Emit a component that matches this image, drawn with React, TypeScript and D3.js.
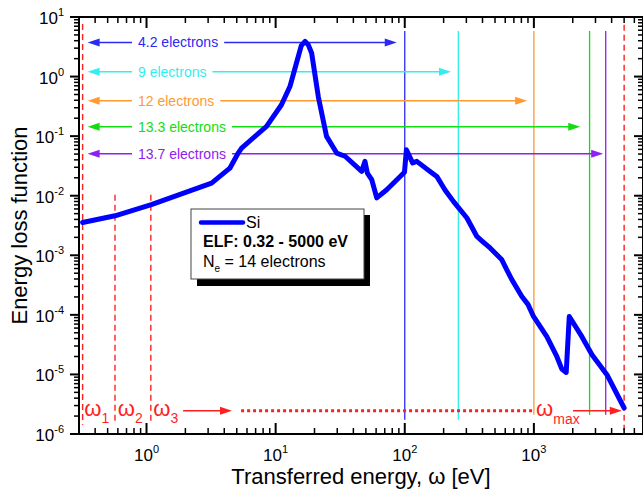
import React from "react";
import * as d3 from "d3";

// ---- data ----
const elfEnergy = [
  0.32, 0.57, 1.09, 3.19, 4.42, 5.13, 5.45, 8.5, 11.1, 12.9, 14.5, 15.8, 16.9, 17.9, 19, 21.4, 24.8,
  29.7, 34.5, 46.4, 49.2, 51.3, 55.5, 60.7, 72.5, 99.5, 103, 115, 124, 157, 177, 205, 238, 303, 362,
  395, 458, 565, 620, 675, 807, 900, 993, 1260, 1505, 1647, 1780, 1880, 2355, 2818, 3680, 5000,
];
const elfValue = [
  3.56e-3, 4.6e-3, 7.1e-3, 0.0163, 0.029, 0.052, 0.063, 0.146, 0.337, 0.68, 1.69, 3.3, 3.9, 3.4,
  2.49, 0.46, 0.099, 0.052, 0.046, 0.0256, 0.0377, 0.024, 0.0186, 0.0092, 0.0126, 0.0247, 0.059,
  0.0355, 0.0377, 0.0256, 0.0211, 0.0125, 0.00803, 0.00423, 0.00207, 0.00175, 0.00133, 8.4e-4,
  5.6e-4, 3.9e-4, 2.04e-4, 1.5e-4, 9.4e-5, 4.3e-5, 2.0e-5, 1.23e-5, 1.08e-5, 9.4e-5, 4.3e-5,
  2.14e-5, 9.9e-6, 2.73e-6,
];

const arrowLabels = ["4.2 electrons", "9 electrons", "12 electrons", "13.3 electrons", "13.7 electrons"];
const arrowLevels = [3.75, 1.21, 0.394, 0.144, 0.0508];
const arrowEnds = [86.7, 228, 887, 2285, 3440];
const arrowStart = 0.35;
const arrowColors = ["#2a2af2", "#33eeee", "#ff9933", "#11dd11", "#9020f0"];

const edgeEnergies = [100, 260, 1000, 2700, 3600];
const edgeBottoms = [1.74e-6, 1.74e-6, 2.1e-6, 2.1e-6, 2.1e-6];
const edgeTop = 5.8;

const omegaEnergies = [0.32, 0.57, 1.08];
const omegaTops = [7.6, 0.0104, 0.0104];
const omegaBottom = 1.43e-6;
const omegaMax = 5000;
const omegaMaxTop = 7.4;
const omegaLabels = ["1", "2", "3"];
const omegaLabelX = [0.33, 0.6, 1.13];

const dottedLevel = 2.46e-6;
const dottedRange = [5.4, 988];
const arrowW3 = [1.92, 4.59];
const arrowWmax = [2010, 4800];

const xDecades = [0, 1, 2, 3];
const yDecades = [-6, -5, -4, -3, -2, -1, 0, 1];

// ---- layout ----
const W = 643;
const H = 495;
const L = 79;
const R = 643;
const T = 17;
const B = 434;
const FONT = "'Liberation Sans', Arial, Helvetica, sans-serif";
const RED = "#ff1f1f";

const x = d3.scaleLog().domain([0.3, 7000]).range([L, R]);
const y = d3.scaleLog().domain([1e-6, 10]).range([B, T]);

function measure(s: string, font: string): number {
  try {
    const c = document.createElement("canvas").getContext("2d");
    if (c) {
      c.font = font;
      return c.measureText(s).width;
    }
  } catch (e) {}
  return s.length * 7;
}

function xMinor(): number[] {
  const out: number[] = [];
  for (let d = -1; d <= 3; d++) {
    for (let k = 2; k <= 9; k++) {
      const v = k * Math.pow(10, d);
      if (v >= 0.3 && v <= 7000) out.push(v);
    }
  }
  return out;
}
function yMinor(): number[] {
  const out: number[] = [];
  for (let d = -6; d <= 0; d++) {
    for (let k = 2; k <= 9; k++) out.push(k * Math.pow(10, d));
  }
  return out;
}

function ArrowHead({ tipX, tipY, dir, color }: { tipX: number; tipY: number; dir: number; color: string }) {
  const len = 12;
  const hw = 4;
  const bx = tipX - dir * len;
  return <polygon points={`${tipX},${tipY} ${bx},${tipY - hw} ${bx},${tipY + hw}`} fill={color} />;
}

export default function App() {
  const line = d3
    .line<number>()
    .x((_, i) => x(elfEnergy[i]))
    .y((v) => y(v));
  const path = line(elfValue) || "";

  const labelStart = 138;
  const labelFont = `14px ${FONT}`;

  return (
    <svg
      width={W}
      height={H}
      viewBox={`0 0 ${W} ${H}`}
      style={{ position: "absolute", left: 0, top: 0, background: "#fff" }}
      fontFamily={FONT}
    >
      <rect x={0} y={0} width={W} height={H} fill="#fff" />

      {/* edge vertical lines */}
      {edgeEnergies.map((e, i) => (
        <line
          key={"edge" + i}
          x1={x(e)}
          x2={x(e)}
          y1={y(edgeTop)}
          y2={y(edgeBottoms[i])}
          stroke={arrowColors[i]}
          strokeWidth={1.3}
        />
      ))}

      {/* red dashed omega lines */}
      {omegaEnergies.map((e, i) => (
        <line
          key={"om" + i}
          x1={x(e)}
          x2={x(e)}
          y1={y(omegaTops[i])}
          y2={y(omegaBottom)}
          stroke={RED}
          strokeWidth={1.4}
          strokeDasharray="6,4"
        />
      ))}
      <line
        x1={x(omegaMax)}
        x2={x(omegaMax)}
        y1={y(omegaMaxTop)}
        y2={B}
        stroke={RED}
        strokeWidth={1.4}
        strokeDasharray="6,4"
      />

      {/* electron arrows */}
      {arrowLabels.map((lab, i) => {
        const yy = y(arrowLevels[i]);
        const x0 = x(arrowStart);
        const x1 = x(arrowEnds[i]);
        const tw = measure(lab, labelFont);
        const c = arrowColors[i];
        return (
          <g key={"arr" + i}>
            <line x1={x0 + 8} x2={labelStart - 6} y1={yy} y2={yy} stroke={c} strokeWidth={1.5} />
            <ArrowHead tipX={x0} tipY={yy} dir={-1} color={c} />
            <text x={labelStart} y={yy + 5} fontSize={14} fill={c}>
              {lab}
            </text>
            <line x1={labelStart + tw + 6} x2={x1 - 8} y1={yy} y2={yy} stroke={c} strokeWidth={1.5} />
            <ArrowHead tipX={x1} tipY={yy} dir={1} color={c} />
          </g>
        );
      })}

      {/* dotted red line and arrows */}
      <line
        x1={x(dottedRange[0])}
        x2={x(dottedRange[1])}
        y1={y(dottedLevel)}
        y2={y(dottedLevel)}
        stroke={RED}
        strokeWidth={3}
        strokeDasharray="3,3"
      />
      <line x1={x(arrowW3[0])} x2={x(arrowW3[1]) - 8} y1={y(dottedLevel)} y2={y(dottedLevel)} stroke={RED} strokeWidth={1.5} />
      <ArrowHead tipX={x(arrowW3[1])} tipY={y(dottedLevel)} dir={1} color={RED} />
      <line x1={x(arrowWmax[0])} x2={x(arrowWmax[1]) - 8} y1={y(dottedLevel)} y2={y(dottedLevel)} stroke={RED} strokeWidth={1.5} />
      <ArrowHead tipX={x(arrowWmax[1])} tipY={y(dottedLevel)} dir={1} color={RED} />

      {/* omega labels */}
      {omegaLabels.map((s, i) => (
        <text key={"ol" + i} x={x(omegaLabelX[i])} y={y(dottedLevel) + 5} fill={RED} fontSize={22}>
          ω
          <tspan fontSize={14} dy={7}>
            {s}
          </tspan>
        </text>
      ))}
      <text x={x(1040)} y={y(dottedLevel) + 5} fill={RED} fontSize={22}>
        ω
        <tspan fontSize={14} dy={8}>
          max
        </tspan>
      </text>

      {/* ELF curve */}
      <path d={path} fill="none" stroke="#0000ff" strokeWidth={5} strokeLinejoin="round" strokeLinecap="round" />

      {/* legend */}
      <rect x={197} y={215} width={173} height={71} fill="#000" />
      <rect x={191} y={209} width={173} height={70} fill="#fff" stroke="#444" strokeWidth={1} />
      <line x1={201} x2={243} y1={222.5} y2={222.5} stroke="#0000ff" strokeWidth={4.5} strokeLinecap="round" />
      <text x={246} y={228} fontSize={16}>
        Si
      </text>
      <text x={203} y={247} fontSize={16} fontWeight="bold">
        ELF: 0.32 - 5000 eV
      </text>
      <text x={203} y={267} fontSize={16}>
        N
        <tspan fontSize={10} dy={5}>
          e
        </tspan>
        <tspan dy={-5}> = 14 electrons</tspan>
      </text>

      {/* axes frame */}
      <rect x={L} y={T} width={R - L} height={B - T} fill="none" stroke="#000" strokeWidth={2} />

      {/* x ticks (inward, bottom & top) */}
      {xMinor().map((v, i) => (
        <g key={"xm" + i}>
          <line x1={x(v)} x2={x(v)} y1={B} y2={B - 6} stroke="#000" strokeWidth={1.5} />
          <line x1={x(v)} x2={x(v)} y1={T} y2={T + 6} stroke="#000" strokeWidth={1.5} />
        </g>
      ))}
      {xDecades.map((d) => {
        const xx = x(Math.pow(10, d));
        return (
          <g key={"xd" + d}>
            <line x1={xx} x2={xx} y1={B} y2={B - 11} stroke="#000" strokeWidth={2} />
            <line x1={xx} x2={xx} y1={T} y2={T + 11} stroke="#000" strokeWidth={2} />
            <text x={xx} y={461} textAnchor="middle" fontSize={17}>
              10
              <tspan fontSize={11} dy={-8}>
                {d}
              </tspan>
            </text>
          </g>
        );
      })}

      {/* y ticks (outward left, inward right) */}
      {yMinor().map((v, i) => (
        <g key={"ym" + i}>
          <line x1={L} x2={L - 5} y1={y(v)} y2={y(v)} stroke="#000" strokeWidth={1.5} />
          <line x1={R} x2={R - 5} y1={y(v)} y2={y(v)} stroke="#000" strokeWidth={1.5} />
        </g>
      ))}
      {yDecades.map((d) => {
        const yy = y(Math.pow(10, d));
        return (
          <g key={"yd" + d}>
            <line x1={L} x2={L - 9} y1={yy} y2={yy} stroke="#000" strokeWidth={2} />
            <line x1={R} x2={R - 9} y1={yy} y2={yy} stroke="#000" strokeWidth={2} />
            <text x={64} y={yy + 7} textAnchor="end" fontSize={17}>
              10
              <tspan fontSize={11} dy={-8}>
                {d}
              </tspan>
            </text>
          </g>
        );
      })}

      {/* axis titles */}
      <text x={361} y={484} textAnchor="middle" fontSize={22}>
        Transferred energy, ω [eV]
      </text>
      <text transform={`translate(27, ${(T + B) / 2}) rotate(-90)`} textAnchor="middle" fontSize={22}>
        Energy loss function
      </text>
    </svg>
  );
}
